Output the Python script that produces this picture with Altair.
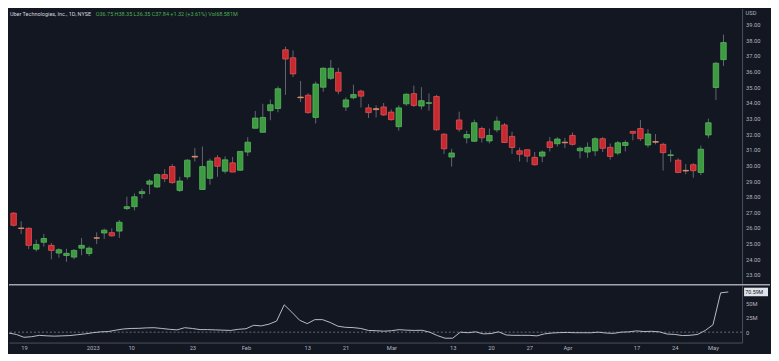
import altair as alt
import pandas as pd

# ---- data (trading-day index 0 = Dec 15, 2022) ----
opens = [26.95, 26.00, 25.98, 24.65, 25.09, 24.89, 24.40, 24.24, 24.14, 24.71,
         24.37, 25.37, 25.68, 25.70, 25.80, 27.24, 27.36, 28.20, 28.80, 28.62,
         29.41, 29.92, 28.40, 29.27, 30.58, 28.46, 29.17, 30.48, 29.63, 30.16,
         29.69, 30.85, 32.37, 32.11, 33.49, 33.63, 37.38, 36.87, 34.36, 34.48,
         33.06, 34.99, 35.56, 35.94, 33.73, 34.32, 34.74, 33.67, 33.62, 33.73,
         33.40, 32.47, 33.93, 34.58, 33.79, 33.96, 34.40, 31.99, 30.53, 32.90,
         31.76, 31.54, 32.35, 31.56, 32.27, 32.58, 31.85, 30.93, 31.00, 30.51,
         30.59, 31.50, 31.38, 31.48, 31.91, 30.93, 30.85, 30.93, 31.70, 31.15,
         30.79, 31.27, 32.17, 32.35, 31.30, 31.52, 31.34, 30.63, 30.33, 29.68,
         30.04, 29.55, 31.94, 34.97, 36.75]
highs = [27.00, 26.43, 26.03, 25.25, 25.62, 25.05, 24.71, 24.67, 24.65, 25.36,
         24.82, 25.72, 25.96, 25.98, 26.51, 28.00, 28.20, 28.50, 29.11, 29.50,
         29.75, 30.08, 29.27, 30.40, 31.10, 31.20, 30.43, 30.65, 30.57, 30.54,
         30.90, 31.80, 33.47, 33.93, 34.20, 35.05, 37.58, 37.34, 35.39, 34.60,
         35.35, 36.26, 36.73, 36.23, 34.34, 35.15, 34.83, 33.91, 33.83, 33.98,
         33.57, 33.83, 34.60, 35.09, 34.99, 34.60, 34.50, 32.05, 31.06, 33.43,
         32.21, 32.92, 32.47, 32.35, 33.12, 32.70, 32.15, 31.13, 31.00, 30.85,
         30.95, 31.80, 31.80, 31.75, 32.10, 31.20, 31.46, 31.80, 31.80, 31.40,
         31.56, 31.60, 32.17, 32.90, 32.31, 32.00, 31.44, 31.00, 30.45, 30.08,
         30.14, 31.26, 32.98, 36.60, 38.35]
lows = [26.10, 25.62, 24.65, 24.50, 24.81, 24.00, 24.10, 23.84, 24.00, 24.26,
        24.20, 24.97, 25.30, 25.45, 25.37, 27.14, 27.12, 27.89, 28.15, 28.55,
        28.93, 28.82, 28.30, 29.10, 30.24, 28.46, 28.77, 29.27, 29.48, 29.57,
        29.66, 30.59, 32.37, 32.11, 32.88, 33.39, 34.50, 35.64, 34.04, 33.30,
        32.67, 34.70, 35.45, 34.54, 33.47, 34.22, 33.69, 33.02, 33.06, 33.16,
        32.86, 32.21, 33.80, 33.73, 33.57, 33.49, 32.21, 30.73, 29.92, 32.15,
        31.40, 31.50, 31.46, 31.40, 32.11, 31.44, 30.73, 30.24, 30.20, 29.98,
        30.20, 30.89, 31.20, 31.10, 31.26, 30.45, 30.48, 30.59, 30.85, 30.36,
        30.66, 30.89, 31.60, 31.56, 31.14, 31.34, 29.67, 30.22, 29.50, 29.43,
        29.21, 29.37, 31.74, 34.18, 36.35]
closes = [26.17, 25.97, 24.89, 24.95, 25.33, 24.57, 24.61, 24.38, 24.57, 24.89,
          24.71, 25.35, 25.86, 25.50, 26.37, 27.36, 27.99, 28.32, 29.00, 29.41,
          29.15, 28.90, 29.00, 30.33, 30.53, 29.92, 30.27, 29.94, 30.35, 29.57,
          30.89, 31.48, 33.02, 33.06, 33.87, 34.89, 36.79, 35.84, 34.32, 33.37,
          35.19, 36.20, 36.20, 34.74, 34.18, 34.52, 34.42, 33.37, 33.56, 33.22,
          32.92, 33.67, 34.54, 33.83, 34.13, 34.00, 32.27, 31.06, 30.79, 32.31,
          31.97, 32.72, 31.76, 31.91, 32.82, 31.46, 31.14, 30.71, 30.59, 30.04,
          30.85, 31.14, 31.68, 31.44, 31.34, 31.09, 31.15, 31.70, 31.09, 30.57,
          31.44, 31.46, 32.05, 31.70, 32.00, 31.48, 30.81, 30.67, 29.55, 29.64,
          29.66, 31.03, 32.72, 36.52, 37.84]
# lower-pane volume oscillator, millions
osc = [-1.5, -4, -9, -8, -5.6, -6.5, -7, -6.5, -6, -4.5,
       -3, -1, 0.5, 1, 3.5, 5.6, 6.5, 6.7, 7.5, 7.8,
       6.5, 5, 4, 7.8, 6.5, 4.5, 4.5, 4, 3.5, 3,
       5, 6, 12, 11, 14, 19.4, 48, 35, 21, 15,
       22, 22, 17, 10.5, 8.5, 8, 6.5, 3, 2.5, 1.7,
       2.5, 4.4, 3.5, 3, 3.3, 0, -6, -10.6, -10.6, 0,
       -1, 0.6, -3, -2.5, 0.6, -5, -5.6, -5.6, -5.6, -6.5,
       -3, -1.5, -0.8, -0.5, -1, -1, -1.1, 0, -1.5, -2.2,
       0, 0.5, 2.2, 1.1, 1.5, 0.5, -3.3, -4, -6, -5.5,
       -4, 3, 13, 69, 70.59]
tick_idx = [2, 11, 16, 24, 31, 39, 44, 50, 58, 63, 68, 73, 82, 87, 92]
tick_text = ["19", "2023", "10", "23", "Feb", "13", "21", "Mar", "13", "20",
             "27", "Apr", "17", "24", "May"]
price_ticks = list(range(23, 40))
vol_ticks = [0, 25, 50]
header_name = "Uber Technologies, Inc., 1D, NYSE"
header_vals = "O36.75 H38.35 L36.35 C37.84 +1.32 (+3.61%) Vol68.581M"
last_label = "70.59M"

# ---- styling ----
BG = "#131722"
TXT = "#b2b5be"
LINE = "#4a4e5a"
W, H1, H2, AX, XA = 735, 276, 58, 28, 11
FONT = "Roboto"
FS = 5.8

df = pd.DataFrame({"i": list(range(len(opens))), "open": opens, "high": highs,
                   "low": lows, "close": closes})


def kind(o, c):
    if abs(c - o) < 0.06 and c < o:
        return "doji"
    return "up" if c >= o else "down"


df["kind"] = [kind(o, c) for o, c in zip(opens, closes)]

xscale = alt.Scale(domain=[0.05, 95.8], nice=False, zero=False)
pscale = alt.Scale(domain=[22.44, 40.02], nice=False, zero=False)
vscale = alt.Scale(domain=[-18.3, 83.3], nice=False, zero=False)

price_axis = alt.Axis(orient="right", values=price_ticks, format=".2f", grid=False,
                      ticks=False, domain=True, domainColor=LINE, labelColor=TXT,
                      labelFontSize=FS, labelFont=FONT, labelPadding=3.5, title=None,
                      minExtent=AX, maxExtent=AX, labelOverlap=False)

wick = alt.Chart(df).mark_rule(color="#62666f", strokeWidth=1, clip=True).encode(
    x=alt.X("i:Q", scale=xscale, axis=None),
    y=alt.Y("low:Q", scale=pscale, axis=price_axis),
    y2="high:Q",
)
body = alt.Chart(df).mark_bar(size=5.5, strokeWidth=0.8, clip=True).encode(
    x=alt.X("i:Q", scale=xscale, axis=None),
    y=alt.Y("open:Q", scale=pscale, axis=price_axis),
    y2="close:Q",
    fill=alt.Fill("kind:N", scale=alt.Scale(domain=["up", "down", "doji"],
                                            range=["#3d9a40", "#c8292e", "#e0825a"]),
                  legend=None),
    stroke=alt.Stroke("kind:N", scale=alt.Scale(domain=["up", "down", "doji"],
                                                range=["#56b85a", "#e35156", "#e8906a"]),
                      legend=None),
)
hdr1 = alt.Chart(pd.DataFrame({"t": [header_name]})).mark_text(
    align="left", baseline="middle", fontSize=5.5, font=FONT, color="#d1d4dc"
).encode(x=alt.value(1), y=alt.value(5.5), text="t:N")
hdr2 = alt.Chart(pd.DataFrame({"t": [header_vals]})).mark_text(
    align="left", baseline="middle", fontSize=5.5, font=FONT, color="#4caf50"
).encode(x=alt.value(87), y=alt.value(5.5), text="t:N")
usd = alt.Chart(pd.DataFrame({"t": ["USD"]})).mark_text(
    align="left", baseline="middle", fontSize=FS, font=FONT, color=TXT
).encode(x=alt.value(W + 3.5), y=alt.value(5), text="t:N")

price = alt.layer(wick, body, hdr1, hdr2, usd).properties(width=W, height=H1)

# ---- lower pane ----
vdf = pd.DataFrame({"i": list(range(len(osc))), "v": osc})
expr = "''"
for p, t in reversed(list(zip(tick_idx, tick_text))):
    expr = f"datum.value == {p} ? '{t}' : ({expr})"

x_axis = alt.Axis(values=tick_idx, labelExpr=expr, grid=False, ticks=False, domain=True,
                  domainColor=LINE, labelColor=TXT, labelFontSize=FS, labelFont=FONT,
                  labelPadding=2, title=None, minExtent=XA, maxExtent=XA,
                  labelOverlap=False)
vol_axis = alt.Axis(orient="right", values=vol_ticks,
                    labelExpr="datum.value == 0 ? '0' : datum.value + 'M'",
                    grid=False, ticks=False, domain=True, domainColor=LINE,
                    labelColor=TXT, labelFontSize=FS, labelFont=FONT, labelPadding=3.5,
                    title=None, minExtent=AX, maxExtent=AX, labelOverlap=False)

vline = alt.Chart(vdf).mark_line(color="#b9bcc5", strokeWidth=1, clip=True).encode(
    x=alt.X("i:Q", scale=xscale, axis=x_axis),
    y=alt.Y("v:Q", scale=vscale, axis=vol_axis),
)
zero = alt.Chart(pd.DataFrame({"z": [0]})).mark_rule(
    color="#7d808a", strokeWidth=0.8, strokeDash=[2, 2]
).encode(y=alt.Y("z:Q", scale=vscale, axis=vol_axis))
sep = alt.Chart(pd.DataFrame({"a": [0]})).mark_rule(
    color="#a3a6af", strokeWidth=1.3
).encode(x=alt.value(0), x2=alt.value(W + AX), y=alt.value(0))
badge_df = pd.DataFrame({"v": [osc[-1]], "t": [last_label]})
badge = alt.Chart(badge_df).transform_calculate(
    top="datum.v + 7.5", bot="datum.v - 7.5"
).mark_rect(color="#e1e3ea").encode(
    x=alt.value(W + 2), x2=alt.value(W + 26),
    y=alt.Y("top:Q", scale=vscale, axis=vol_axis), y2="bot:Q",
)
badge_txt = alt.Chart(badge_df).mark_text(
    align="left", baseline="middle", fontSize=5.3, font=FONT, color=BG
).encode(x=alt.value(W + 3.3), y=alt.Y("v:Q", scale=vscale, axis=vol_axis), text="t:N")

vol = alt.layer(zero, vline, sep, badge, badge_txt).properties(width=W, height=H2)

chart = alt.vconcat(price, vol, spacing=0, padding=0, background=BG).configure_view(
    strokeWidth=0
)
chart.save("out.html", embed_options={"renderer": "svg", "actions": False})
